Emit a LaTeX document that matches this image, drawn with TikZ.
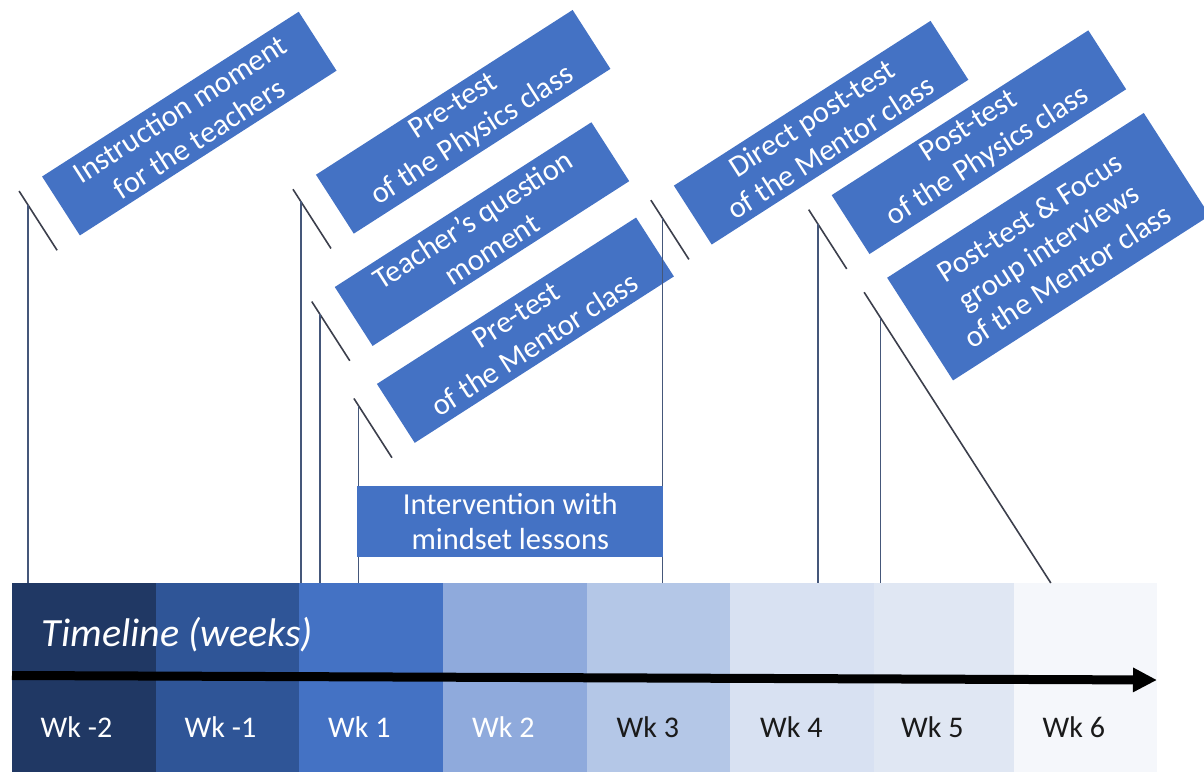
\documentclass[tikz,border=0pt]{standalone}
\usepackage{fontspec}
\setmainfont{Carlito}
\usetikzlibrary{calc,arrows.meta}
\definecolor{boxblue}{HTML}{4472C4}
\definecolor{wkA}{HTML}{203864}
\definecolor{wkB}{HTML}{2F5597}
\definecolor{wkC}{HTML}{4472C4}
\definecolor{wkD}{HTML}{8FAADC}
\definecolor{wkE}{HTML}{B4C7E7}
\definecolor{wkF}{HTML}{D8E1F2}
\definecolor{wkG}{HTML}{E0E7F3}
\definecolor{wkH}{HTML}{F5F7FB}
\definecolor{vlinecol}{HTML}{45577A}
\definecolor{barcol}{HTML}{3C3F4C}
\definecolor{darktext}{HTML}{1A1A1A}
\begin{document}
\begin{tikzpicture}[x=1pt,y=1pt,
  evbox/.style={fill=boxblue, text=white, align=center, inner sep=1pt,
    font=\fontsize{30.5}{35}\selectfont, minimum height=70pt, minimum width=305pt, rotate=32.7},
  flatbox/.style={fill=boxblue, text=white, align=center, inner sep=1pt,
    font=\fontsize{30.5}{35}\selectfont, minimum height=71pt, minimum width=306pt},
  col/.style={anchor=south west, inner sep=0pt, outer sep=0pt, minimum height=189pt},
  wklabel/.style={anchor=base west, inner sep=0pt, font=\fontsize{30}{34}\selectfont},
  vline/.style={draw=vlinecol, line width=1.6pt},
  barline/.style={draw=barcol, line width=1.6pt},
]
\useasboundingbox (0,0) rectangle (1204,772);

% event boxes
\node[evbox] (b1) at (189.3,648.4) {Instruction moment\\for the teachers};
\node[evbox] (b2) at (463.2,650.2) {Pre-test\\of the Physics class};
\node[evbox] (b3) at (482.0,537.9) {Teacher’s question\\moment};
\node[evbox, minimum width=308pt] (b4) at (525.4,441.8) {Pre-test\\of the Mentor class};
\node[evbox] (b5) at (821.1,639.3) {Direct post-test\\of the Mentor class};
\node[evbox] (b6) at (978.9,629.8) {Post-test\\of the Physics class};
\node[evbox, minimum height=122pt] (b7) at (1048.4,525.3) {Post-test \& Focus\\group interviews\\of the Mentor class};

% accent bars
\foreach \i in {1,...,7}{
  \coordinate (a\i) at ($(b\i.north west)!-27pt!(b\i.north east)$);
  \coordinate (z\i) at ($(b\i.south west)!-27pt!(b\i.south east)$);
}

% timeline columns
\node[col, fill=wkA, minimum width=144pt] (w1) at (12,0) {};
\node[col, fill=wkB, minimum width=143pt] (w2) at (156,0) {};
\node[col, fill=wkC, minimum width=144pt] (w3) at (299,0) {};
\node[col, fill=wkD, minimum width=144pt] (w4) at (443,0) {};
\node[col, fill=wkE, minimum width=143pt] (w5) at (587,0) {};
\node[col, fill=wkF, minimum width=144pt] (w6) at (730,0) {};
\node[col, fill=wkG, minimum width=140pt] (w7) at (874,0) {};
\node[col, fill=wkH, minimum width=143pt] (w8) at (1014,0) {};

% bars and verticals
\foreach \i in {1,...,6}{ \draw[barline] (a\i) -- (z\i); }
\coordinate (f7) at (intersection of a7--z7 and 0,189--1204,189);
\draw[barline] (a7) -- (f7);

\coordinate (v1) at (intersection of a1--z1 and 28,0--28,700);
\coordinate (v2) at (intersection of a2--z2 and 300.7,0--300.7,700);
\coordinate (v3) at (intersection of a3--z3 and 320,0--320,700);
\coordinate (v4) at (intersection of a4--z4 and 358.5,0--358.5,700);
\coordinate (v5) at (intersection of a5--z5 and 662.3,0--662.3,700);
\coordinate (v6) at (intersection of a6--z6 and 818,0--818,700);
\coordinate (v7) at (intersection of a7--z7 and 880.5,0--880.5,700);
\foreach \i in {1,...,7}{ \draw[vline] (v\i) -- (v\i |- w1.north); }

% intervention box
\node[flatbox] (iv) at (510.3,250.4) {Intervention with\\mindset lessons};

% timeline text and arrow
\node[anchor=base west, inner sep=0pt, text=white, font=\fontsize{40}{42}\selectfont\itshape] (tl) at (41.7,126) {Timeline (weeks)};
\coordinate (arrS) at (12,96.5);
\coordinate (arrE) at (1157,92);
\draw[line width=9pt, -{Triangle[length=24pt,width=23pt]}] (arrS) -- (arrE);

\node[wklabel, text=white] (l1) at (40.5,35) {Wk -2};
\node[wklabel, text=white] (l2) at (184.5,35) {Wk -1};
\node[wklabel, text=white] (l3) at (328,35) {Wk 1};
\node[wklabel, text=white] (l4) at (472,35) {Wk 2};
\node[wklabel, text=darktext] (l5) at (616.5,35) {Wk 3};
\node[wklabel, text=darktext] (l6) at (760,35) {Wk 4};
\node[wklabel, text=darktext] (l7) at (901,35) {Wk 5};
\node[wklabel, text=darktext] (l8) at (1042.5,35) {Wk 6};
\end{tikzpicture}
\end{document}
